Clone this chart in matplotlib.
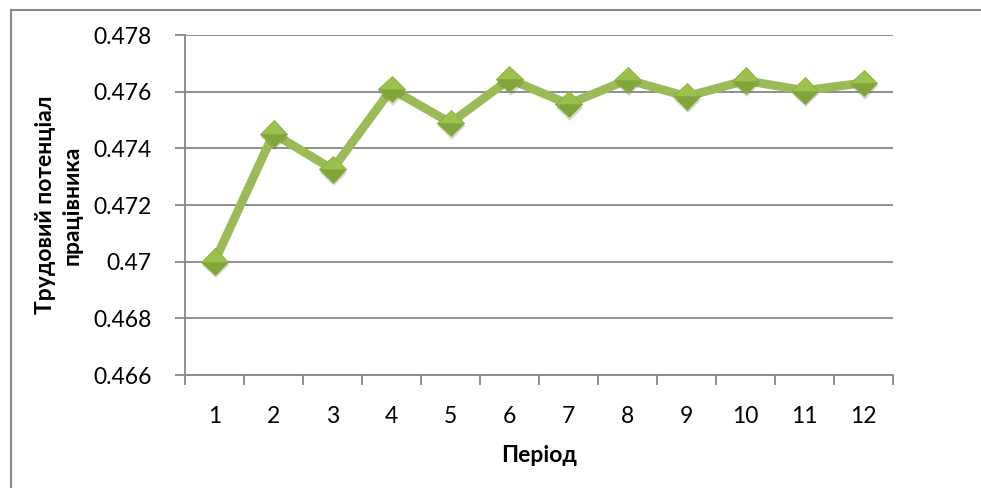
import matplotlib
matplotlib.use("Agg")
import matplotlib.pyplot as plt
import matplotlib.patheffects as pe
from matplotlib.lines import Line2D

periods = [1, 2, 3, 4, 5, 6, 7, 8, 9, 10, 11, 12]
potential = [0.4700, 0.47452, 0.47326, 0.47609, 0.4749, 0.47644,
             0.47556, 0.47642, 0.47583, 0.47639, 0.47604, 0.47631]
y_ticks = [0.466, 0.468, 0.47, 0.472, 0.474, 0.476, 0.478]
y_tick_labels = ["0.466", "0.468", "0.47", "0.472", "0.474", "0.476", "0.478"]
x_label = "Період"
y_label = "Трудовий потенціал\nпрацівника"

plt.rcParams["font.family"] = ["Lato", "DejaVu Sans"]

W, H = 981, 488
fig = plt.figure(figsize=(W / 100, H / 100), dpi=100)
ax = fig.add_axes([185 / W, 1 - 375 / H, 708 / W, 340 / H])

grid_c = "#878787"
ax.set_ylim(0.466, 0.478)
ax.set_xlim(0.5, 12.5)
ax.set_yticks(y_ticks)
ax.set_yticklabels(y_tick_labels)
ax.yaxis.grid(True, color=grid_c, linewidth=1.3)
ax.set_axisbelow(True)

# category boundaries carry the ticks, labels sit between them
ax.set_xticks([p + 0.5 for p in [0] + periods])
ax.set_xticklabels([])
ax.set_xticks(periods, minor=True)
ax.set_xticklabels([str(p) for p in periods], minor=True)
ax.tick_params(axis="x", which="minor", length=0, pad=22, labelsize=16.5)
ax.tick_params(axis="x", which="major", length=7, color=grid_c, width=1.3, direction="out")
ax.tick_params(axis="y", length=7, color=grid_c, width=1.3, pad=17, labelsize=16.5)

for side in ("top", "right"):
    ax.spines[side].set_visible(False)
for side in ("left", "bottom"):
    ax.spines[side].set_color(grid_c)
    ax.spines[side].set_linewidth(1.3)

ax.plot(periods, potential, color="#9BBB59", linewidth=6.3, solid_joinstyle="miter",
        zorder=3)
ax.plot(periods, potential, linestyle="none", marker="D", markersize=13.5,
        markerfacecolor="#9CC14C", markerfacecoloralt="#80A63B", fillstyle="top",
        markeredgecolor="#88AE40", markeredgewidth=0.6, zorder=4,
        path_effects=[pe.SimplePatchShadow(offset=(0.8, -2.5), alpha=0.2, shadow_rgbFace="#444444"),
                      pe.Normal()])

ax.set_xlabel(x_label, fontsize=16.5, fontweight="bold")
ax.xaxis.set_label_coords(0.5, -(445 - 375) / 340)
ax.set_ylabel(y_label, fontsize=16.5, fontweight="bold", linespacing=1.35)
ax.yaxis.set_label_coords((83 - 185) / 708, 0.5)

# chart frame (left and top edges)
fig.add_artist(Line2D([11 / W, 11 / W], [0, 1 - 10 / H], transform=fig.transFigure,
                      color="#8A8A8A", linewidth=1.5))
fig.add_artist(Line2D([11 / W, 1], [1 - 10 / H, 1 - 10 / H], transform=fig.transFigure,
                      color="#8A8A8A", linewidth=1.5))

fig.savefig("out.png", dpi=100, facecolor="white")
